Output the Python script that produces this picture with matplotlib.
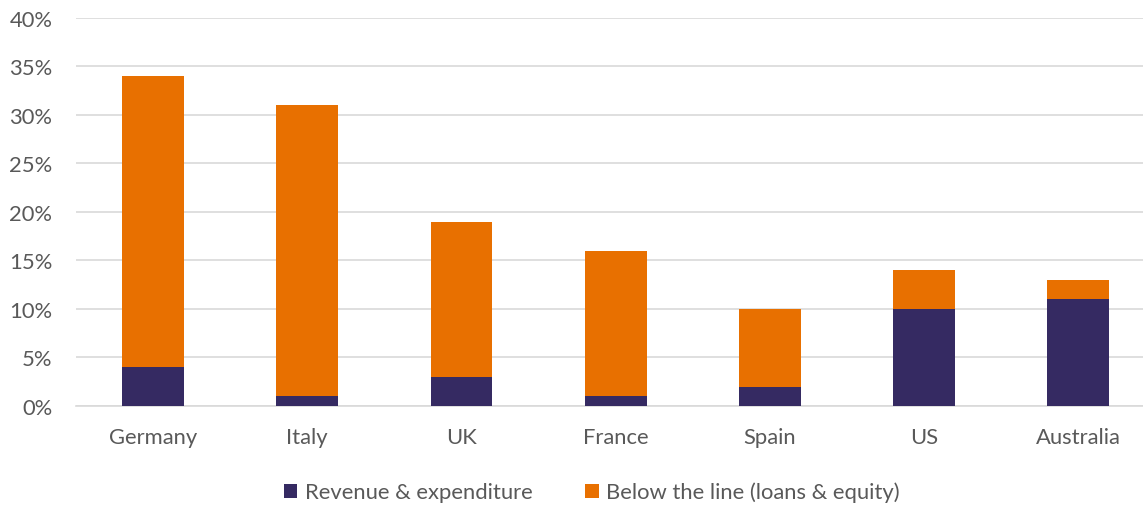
import matplotlib.pyplot as plt
import numpy as np
from matplotlib.ticker import FuncFormatter

countries = ['Germany', 'Italy', 'UK', 'France', 'Spain', 'US', 'Australia']
revenue = [4, 1, 3, 1, 2, 10, 11]
below_line = [30, 30, 16, 15, 8, 4, 2]

navy = '#352A62'
orange = '#E87000'
grey_text = '#595959'

plt.rcParams['font.family'] = ['Lato', 'DejaVu Sans']

fig = plt.figure(figsize=(11.43, 5.06), dpi=100)
ax = fig.add_axes([0.0665, 0.1957, 0.9335, 0.7668])

x = np.arange(len(countries))
ax.bar(x, revenue, width=0.4, color=navy, label='Revenue & expenditure', zorder=3)
ax.bar(x, below_line, width=0.4, bottom=revenue, color=orange,
       label='Below the line (loans & equity)', zorder=3)

ax.set_ylim(0, 40)
ax.set_xlim(-0.5, 6.42)
ax.set_yticks(np.arange(0, 41, 5))
ax.yaxis.set_major_formatter(FuncFormatter(lambda v, p: f'{v:.0f}%'))
ax.set_xticks(x)
ax.set_xticklabels(countries)
ax.grid(axis='y', color='#D9D9D9', linewidth=1.2, zorder=0)
for s in ['top', 'right', 'left']:
    ax.spines[s].set_visible(False)
ax.spines['bottom'].set_color('#D9D9D9')
ax.spines['bottom'].set_linewidth(1.2)
ax.tick_params(axis='both', length=0, labelsize=15.8, colors=grey_text)
ax.tick_params(axis='x', pad=15)
ax.tick_params(axis='y', pad=17)

leg = ax.legend(loc='center', bbox_to_anchor=(0.4836, -0.222), ncol=2, frameon=False,
                fontsize=15.8, handlelength=0.6, handleheight=0.6, columnspacing=2.4,
                handletextpad=0.35)
for t in leg.get_texts():
    t.set_color(grey_text)

fig.savefig('out.png', dpi=100)
